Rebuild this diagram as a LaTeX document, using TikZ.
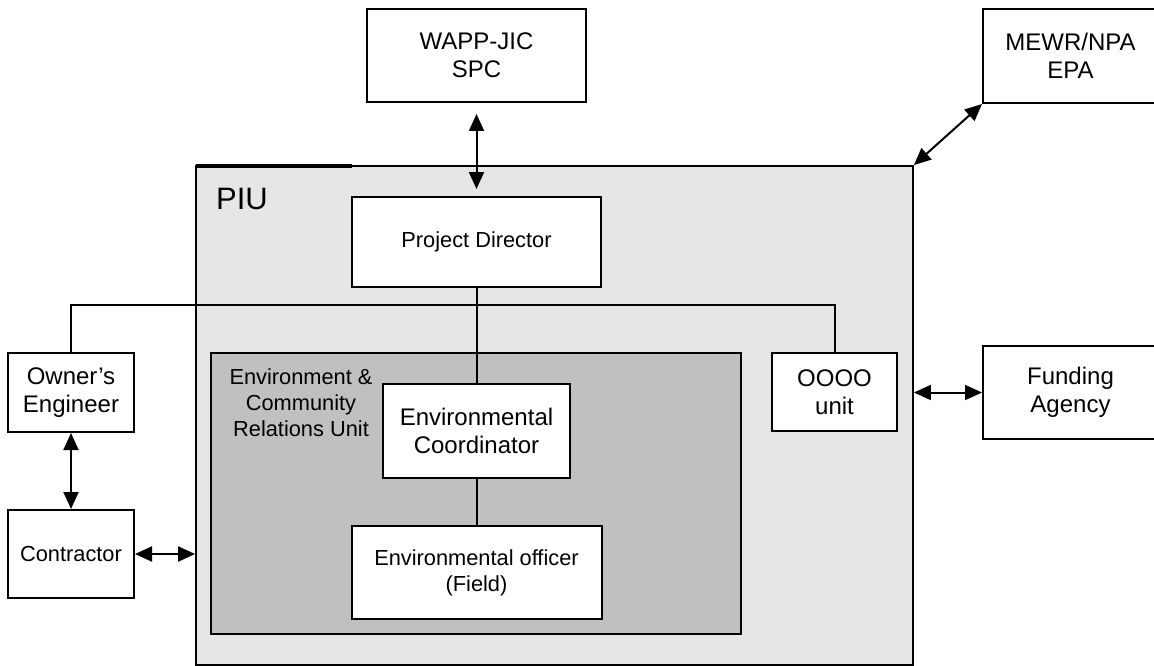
\documentclass[tikz,border=0pt]{standalone}
\usepackage{fontspec}
\setmainfont{Liberation Sans}
\usetikzlibrary{arrows.meta}
\definecolor{piugray}{HTML}{E6E6E6}
\definecolor{unitgray}{HTML}{C0C0C0}
\tikzset{
  box/.style={draw, fill=white, line width=2pt, align=center, inner sep=0pt},
  bigtxt/.style={font=\fontsize{24}{28}\selectfont},
  smalltxt/.style={font=\fontsize{21.8}{26}\selectfont},
  link/.style={line width=2pt},
}
\begin{document}
\begin{tikzpicture}[x=1pt, y=-1pt, >={Triangle[length=17pt,width=15pt]}]
		\useasboundingbox (0,0) rectangle (1154,666);
		\clip (0,0) rectangle (1154,666);
		
		% --- 1. Outer blocks (PIU and the unit) ---
		\node[draw, fill=piugray, line width=1.8pt, minimum width=717, minimum height=499, inner sep=0pt] (piu) at (554.5,415.5) {};
		\draw[line width=3.2pt] (196,166) -- (352,166); % heavier stroke on top edge
		\node[font=\fontsize{31}{36}\selectfont] (piulbl) at (242,199) {PIU};
		\node[draw, fill=unitgray, line width=2pt, minimum width=530, minimum height=281, inner sep=0pt] (unit) at (476,493.5) {};
		\node[smalltxt, align=center] (unitlbl) at (301,403) {Environment \&\\Community\\Relations Unit};
		
		% --- 2. Boxes ---
		\node[box, bigtxt, minimum width=219, minimum height=93] (wapp) at (476.5,55.5) {WAPP-JIC\\SPC};
		\node[box, bigtxt, minimum width=175, minimum height=94] (mewr) at (1070.5,56) {MEWR/NPA\\EPA};
		\node[box, smalltxt, minimum width=249, minimum height=90] (pd) at (476.5,242) {Project Director};
		\node[box, bigtxt, minimum width=126, minimum height=79] (owner) at (71,392.5) {Owner’s\\Engineer};
		\node[box, smalltxt, minimum width=126, minimum height=88] (contr) at (71,554) {Contractor};
		\node[box, bigtxt, minimum width=187, minimum height=94] (coord) at (476.5,431) {Environmental\\Coordinator};
		\node[box, smalltxt, minimum width=250, minimum height=93] (officer) at (476.5,572.5) {Environmental officer\\(Field)};
		\node[box, bigtxt, minimum width=125, minimum height=78] (oooo) at (834.5,392) {OOOO\\unit};
		\node[box, bigtxt, minimum width=175, minimum height=93] (fund) at (1070.5,392.5) {Funding\\Agency};
		
		% --- 3. Reporting lines ---
		\coordinate (bus) at (0,305);
		\draw[link] (pd.south) -- (coord.north);
		\draw[link] (coord.south) -- (officer.north);
		\draw[link] (owner.north) -- (owner.north |- bus) -| (oooo.north);
		
		% --- 4. Two-way arrows ---
		\draw[link, <->, shorten <=11pt, shorten >=7pt] (wapp.south) -- (pd.north);
		\draw[link, <->] (piu.north east) -- (mewr.south west);
		\draw[link, <->] (piu.east |- fund.west) -- (fund.west);
		\draw[link, <->] (owner.south) -- (contr.north);
		\draw[link, <->] (contr.east) -- (contr.east -| piu.west);
	\end{tikzpicture}
\end{document}
